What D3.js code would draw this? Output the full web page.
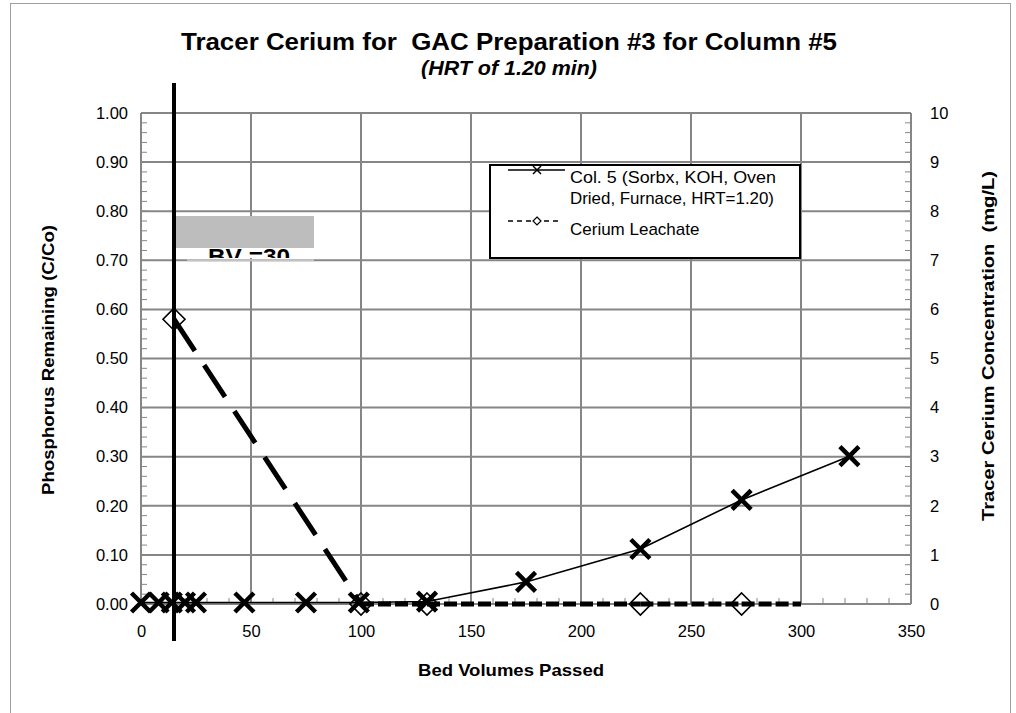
<!DOCTYPE html>
<html>
<head>
<meta charset="utf-8">
<script src="https://cdn.jsdelivr.net/npm/d3@7"></script>
<style>
  html, body { margin: 0; padding: 0; background: #fff; }
  svg { display: block; font-family: "Liberation Sans", Arial, sans-serif; }
</style>
</head>
<body>
<svg id="chart" width="1016" height="713"></svg>
<script>
// Column 5 phosphorus breakthrough (C/Co) against bed volumes passed
const col5BV = [0, 8, 14, 20, 25, 47, 75, 99, 130, 175, 227, 273, 322];
const col5CCo = [0.003, 0.003, 0.003, 0.003, 0.003, 0.003, 0.003, 0.003, 0.005, 0.045, 0.112, 0.212, 0.301];

// Cerium leachate (mg/L) against bed volumes passed; last reading plotted without a marker
const ceriumBV = [15, 100, 130, 227, 273, 300];
const ceriumMgL = [5.8, 0, 0, 0, 0, 0];
const ceriumMarker = [true, true, true, true, true, false];

// Axis ticks
const xTicks = [0, 50, 100, 150, 200, 250, 300, 350];
const yLeftTicks = [0, 0.1, 0.2, 0.3, 0.4, 0.5, 0.6, 0.7, 0.8, 0.9, 1.0];
const yRightTicks = [0, 1, 2, 3, 4, 5, 6, 7, 8, 9, 10];

// Reference line for the BV annotation
const markerBV = 15;
const markerLabel = "BV =30";

const titleText = "Tracer Cerium for  GAC Preparation #3 for Column #5";
const subtitleText = "(HRT of 1.20 min)";
const xTitle = "Bed Volumes Passed";
const yLeftTitle = "Phosphorus Remaining (C/Co)";
const yRightTitle = "Tracer Cerium Concentration  (mg/L)";
const legendCol5 = ["Col. 5 (Sorbx, KOH, Oven", "Dried, Furnace, HRT=1.20)"];
const legendCerium = "Cerium Leachate";

const svg = d3.select("#chart");
const plot = { left: 141, right: 911, top: 113, bottom: 604 };
const gridColor = "#868686";

const x = d3.scaleLinear().domain([0, 350]).range([plot.left, plot.right]);
const yL = d3.scaleLinear().domain([0, 1]).range([plot.bottom, plot.top]);
const yR = d3.scaleLinear().domain([0, 10]).range([plot.bottom, plot.top]);

// Outer chart frame
svg.append("rect")
  .attr("x", 10.5).attr("y", 3.5).attr("width", 1000).attr("height", 712)
  .attr("fill", "none").attr("stroke", "#a0a0a0").attr("stroke-width", 1);

// Title
svg.append("text")
  .attr("x", 509).attr("y", 50)
  .attr("text-anchor", "middle")
  .attr("font-size", 23).attr("font-weight", "bold")
  .attr("textLength", 656).attr("lengthAdjust", "spacingAndGlyphs")
  .style("white-space", "pre")
  .text(titleText);
svg.append("text")
  .attr("x", 509).attr("y", 75)
  .attr("text-anchor", "middle")
  .attr("font-size", 21).attr("font-weight", "bold").attr("font-style", "italic")
  .attr("textLength", 176).attr("lengthAdjust", "spacingAndGlyphs")
  .text(subtitleText);

// Grid
const grid = svg.append("g");
grid.selectAll("line.h").data(yLeftTicks).join("line")
  .attr("x1", plot.left).attr("x2", plot.right)
  .attr("y1", d => yL(d)).attr("y2", d => yL(d))
  .attr("stroke", gridColor).attr("stroke-width", 2);
grid.selectAll("line.v").data(xTicks).join("line")
  .attr("x1", d => x(d)).attr("x2", d => x(d))
  .attr("y1", plot.top).attr("y2", plot.bottom)
  .attr("stroke", gridColor).attr("stroke-width", 2);

// Minor tick marks pointing into the plot
const minorY = d3.range(0, 1.0001, 0.02);
grid.selectAll("line.ml").data(minorY).join("line")
  .attr("x1", plot.left).attr("x2", plot.left + 6)
  .attr("y1", d => yL(d)).attr("y2", d => yL(d))
  .attr("stroke", gridColor).attr("stroke-width", 1);
const minorYR = d3.range(0, 10.0001, 0.2);
grid.selectAll("line.mr").data(minorYR).join("line")
  .attr("x1", plot.right - 6).attr("x2", plot.right)
  .attr("y1", d => yR(d)).attr("y2", d => yR(d))
  .attr("stroke", gridColor).attr("stroke-width", 1);
const minorX = d3.range(0, 350.001, 10);
grid.selectAll("line.mx").data(minorX).join("line")
  .attr("x1", d => x(d)).attr("x2", d => x(d))
  .attr("y1", plot.bottom - 6).attr("y2", plot.bottom)
  .attr("stroke", gridColor).attr("stroke-width", 1);

// Tick labels via axis generators (lines hidden, text only)
const axL = svg.append("g").attr("transform", `translate(${plot.left},0)`)
  .call(d3.axisLeft(yL).tickValues(yLeftTicks).tickFormat(d3.format(".2f")).tickSize(0).tickPadding(13));
const axR = svg.append("g").attr("transform", `translate(${plot.right},0)`)
  .call(d3.axisRight(yR).tickValues(yRightTicks).tickFormat(d3.format("d")).tickSize(0).tickPadding(19));
const axB = svg.append("g").attr("transform", `translate(0,${plot.bottom})`)
  .call(d3.axisBottom(x).tickValues(xTicks).tickFormat(d3.format("d")).tickSize(0).tickPadding(21));
[axL, axR, axB].forEach(a => {
  a.select(".domain").remove();
  a.selectAll("text").attr("font-size", 16.5).attr("fill", "#000")
    .attr("font-family", "'Liberation Sans', Arial, sans-serif");
});

// Axis titles
svg.append("text")
  .attr("transform", `translate(54,360) rotate(-90)`)
  .attr("text-anchor", "middle").attr("font-size", 17).attr("font-weight", "bold")
  .attr("textLength", 270).attr("lengthAdjust", "spacingAndGlyphs")
  .text(yLeftTitle);
svg.append("text")
  .attr("transform", `translate(994,346) rotate(-90)`)
  .attr("text-anchor", "middle").attr("font-size", 17).attr("font-weight", "bold")
  .attr("textLength", 350).attr("lengthAdjust", "spacingAndGlyphs")
  .style("white-space", "pre")
  .text(yRightTitle);
svg.append("text")
  .attr("x", 511).attr("y", 676)
  .attr("text-anchor", "middle").attr("font-size", 17).attr("font-weight", "bold")
  .attr("textLength", 186).attr("lengthAdjust", "spacingAndGlyphs")
  .text(xTitle);

// Series data
const col5 = col5BV.map((b, i) => ({ bv: b, v: col5CCo[i] }));
const cerium = ceriumBV.map((b, i) => ({ bv: b, v: ceriumMgL[i], m: ceriumMarker[i] }));

// Column 5 line
svg.append("path")
  .datum(col5)
  .attr("d", d3.line().x(d => x(d.bv)).y(d => yL(d.v)))
  .attr("fill", "none").attr("stroke", "#000").attr("stroke-width", 1.6);

// Cerium line, drawn segment by segment: long dashes where it drops, short dashes where flat
const segs = d3.pairs(cerium);
svg.append("g").selectAll("line").data(segs).join("line")
  .attr("x1", d => x(d[0].bv)).attr("y1", d => yR(d[0].v))
  .attr("x2", d => x(d[1].bv)).attr("y2", d => yR(d[1].v))
  .attr("stroke", "#000").attr("stroke-width", 5)
  .attr("stroke-dasharray", d => d[0].v !== d[1].v ? "38,17" : "13,4");

// Diamond markers
const diamond = (cx, cy, r) => `M${cx},${cy - r}L${cx + r},${cy}L${cx},${cy + r}L${cx - r},${cy}Z`;
svg.append("g").selectAll("path").data(cerium.filter(d => d.m)).join("path")
  .attr("d", d => diamond(x(d.bv), yR(d.v), 11))
  .attr("fill", "none").attr("stroke", "#000").attr("stroke-width", 1.6);

// X markers
const cross = (cx, cy, r) => `M${cx - r},${cy - r}L${cx + r},${cy + r}M${cx - r},${cy + r}L${cx + r},${cy - r}`;
svg.append("g").selectAll("path").data(col5).join("path")
  .attr("d", d => cross(x(d.bv), yL(d.v), 9.5))
  .attr("fill", "none").attr("stroke", "#000").attr("stroke-width", 4.5);

// Legend
const lg = svg.append("g");
lg.append("rect").attr("x", 490).attr("y", 165).attr("width", 310).attr("height", 93)
  .attr("fill", "#fff").attr("stroke", "#000").attr("stroke-width", 2);
lg.append("line").attr("x1", 508).attr("x2", 565).attr("y1", 170).attr("y2", 170)
  .attr("stroke", "#000").attr("stroke-width", 1.5);
lg.append("path").attr("d", cross(537, 170, 4)).attr("stroke", "#000").attr("stroke-width", 1.5);
lg.append("line").attr("x1", 508).attr("x2", 562).attr("y1", 221).attr("y2", 221)
  .attr("stroke", "#000").attr("stroke-width", 1.5).attr("stroke-dasharray", "5,4");
lg.append("path").attr("d", diamond(537, 221, 4)).attr("fill", "#fff")
  .attr("stroke", "#000").attr("stroke-width", 1.2);
lg.selectAll("text.c5").data(legendCol5).join("text")
  .attr("x", 570).attr("y", (d, i) => 183 + i * 21)
  .attr("font-size", 17).attr("textLength", (d, i) => i === 0 ? 206 : 204)
  .attr("lengthAdjust", "spacingAndGlyphs")
  .text(d => d);
lg.append("text").attr("x", 570).attr("y", 235).attr("font-size", 17).text(legendCerium);

// BV annotation box
const ann = svg.append("g");
ann.append("rect").attr("x", 176).attr("y", 216).attr("width", 138).attr("height", 32)
  .attr("fill", "#bdbdbd");
ann.append("rect").attr("x", 176).attr("y", 248).attr("width", 138).attr("height", 10)
  .attr("fill", "#fff");
ann.append("line").attr("x1", 187).attr("x2", 314).attr("y1", yL(0.7)).attr("y2", yL(0.7))
  .attr("stroke", "#c4c4c4").attr("stroke-width", 2);
svg.append("defs").append("clipPath").attr("id", "bvclip")
  .append("rect").attr("x", 176).attr("y", 240).attr("width", 138).attr("height", 18);
ann.append("text").attr("x", 208).attr("y", 264)
  .attr("font-size", 22).attr("font-weight", "bold")
  .attr("textLength", 82).attr("lengthAdjust", "spacingAndGlyphs")
  .attr("clip-path", "url(#bvclip)")
  .text(markerLabel);

// Vertical reference line
svg.append("line")
  .attr("x1", x(markerBV)).attr("x2", x(markerBV))
  .attr("y1", 83).attr("y2", 641)
  .attr("stroke", "#000").attr("stroke-width", 4);
</script>
</body>
</html>
